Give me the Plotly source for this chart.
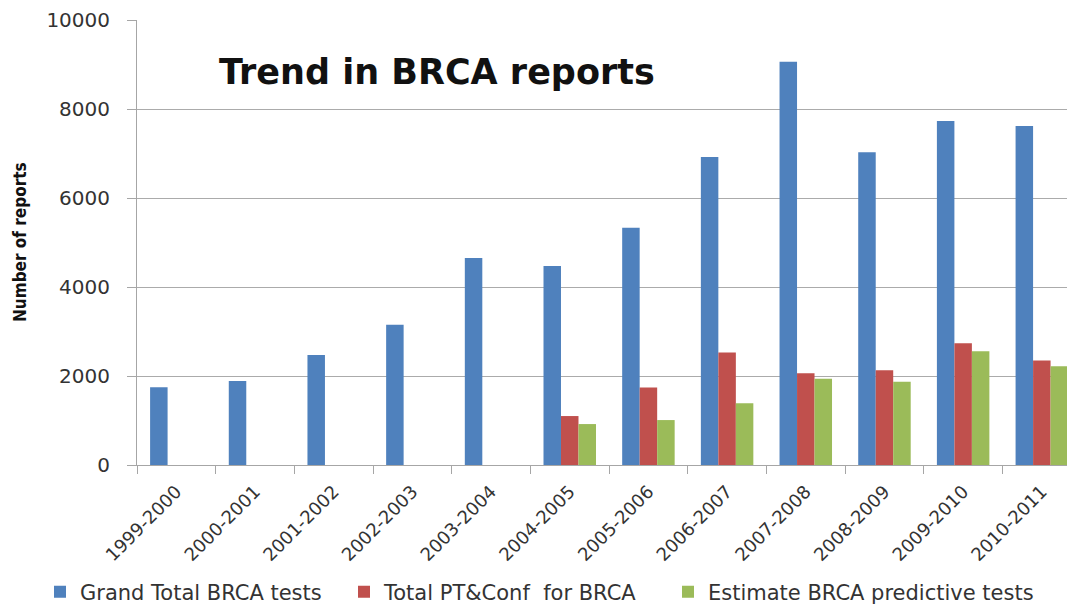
import plotly.graph_objects as go

categories = ["1999-2000", "2000-2001", "2001-2002", "2002-2003", "2003-2004", "2004-2005",
              "2005-2006", "2006-2007", "2007-2008", "2008-2009", "2009-2010", "2010-2011"]
grand_total = [1750, 1890, 2470, 3150, 4650, 4470, 5330, 6920, 9060, 7030, 7730, 7620]
pt_conf = [None, None, None, None, None, 1100, 1740, 2530, 2060, 2130, 2735, 2350]
predictive = [None, None, None, None, None, 920, 1010, 1390, 1940, 1870, 2555, 2220]
y_ticks = [0, 2000, 4000, 6000, 8000, 10000]

series_names = ["Grand Total BRCA tests", "Total PT&Conf  for BRCA", "Estimate BRCA predictive tests"]
colors = ["#4F81BD", "#C0504D", "#9BBB59"]

FONT = "DejaVu Sans"
NARROW = "Liberation Sans Narrow, DejaVu Sans Condensed"
W, H = 1067, 605
L, T, R = 137, 20, 0
B = H - 465
PW, PH = W - L - R, H - T - B


def px(xp):
    return (xp - L) / PW


def py(yp):
    return (H - B - yp) / PH


legend_ids = ["legend", "legend2", "legend3"]
legend_left = [40, 344, 668]

fig = go.Figure()
for name, vals, col, lid in zip(series_names, [grand_total, pt_conf, predictive], colors, legend_ids):
    fig.add_trace(go.Bar(x=categories, y=vals, name=name, marker_color=col,
                         marker_line_width=0, legend=lid))

legend_common = dict(orientation="h", yanchor="middle", y=py(592), xanchor="left",
                     font=dict(size=21, family=FONT, color="#333333"),
                     itemwidth=30, bgcolor="rgba(0,0,0,0)")
fig.update_layout(
    width=W, height=H,
    paper_bgcolor="white", plot_bgcolor="white",
    margin=dict(l=L, r=R, t=T, b=B, autoexpand=False),
    barmode="group", bargap=0.333, bargroupgap=0,
    font=dict(family=FONT, color="#222222"),
    showlegend=True,
    legend=dict(x=px(legend_left[0]), **legend_common),
    legend2=dict(x=px(legend_left[1]), **legend_common),
    legend3=dict(x=px(legend_left[2]), **legend_common),
    annotations=[
        dict(text="<b>Trend in BRCA reports</b>", xref="paper", yref="paper",
             x=px(437), y=py(72), xanchor="center", yanchor="middle",
             showarrow=False, font=dict(size=35, family=FONT, color="#111111")),
        dict(text="<b>Number of reports</b>", xref="paper", yref="paper",
             x=px(20), y=py(242), textangle=-90,
             xanchor="center", yanchor="middle", showarrow=False,
             font=dict(size=17, family=NARROW, color="#111111")),
    ],
)
fig.update_xaxes(
    range=[-0.5, 11.32], automargin=False,
    tickangle=-45, tickfont=dict(size=18, family=FONT, color="#333333"),
    showline=True, linecolor="#A6A6A6", linewidth=1,
    ticks="outside", tickson="boundaries", ticklen=8, tickcolor="#A6A6A6",
    ticklabelstandoff=8,
    showgrid=False,
)
fig.update_yaxes(
    range=[0, 10000], tickvals=y_ticks, tickformat="d", automargin=False,
    tickfont=dict(size=20, family=FONT, color="#333333"),
    showline=True, linecolor="#A6A6A6", linewidth=1,
    ticks="outside", ticklen=9, tickcolor="#A6A6A6", ticklabelstandoff=13,
    showgrid=True, gridcolor="#ABABAB", gridwidth=1, zeroline=False,
)

fig.write_html("out.html", config={"displayModeBar": False},
               post_script="document.body.style.margin='0';document.body.style.overflow='hidden';")
